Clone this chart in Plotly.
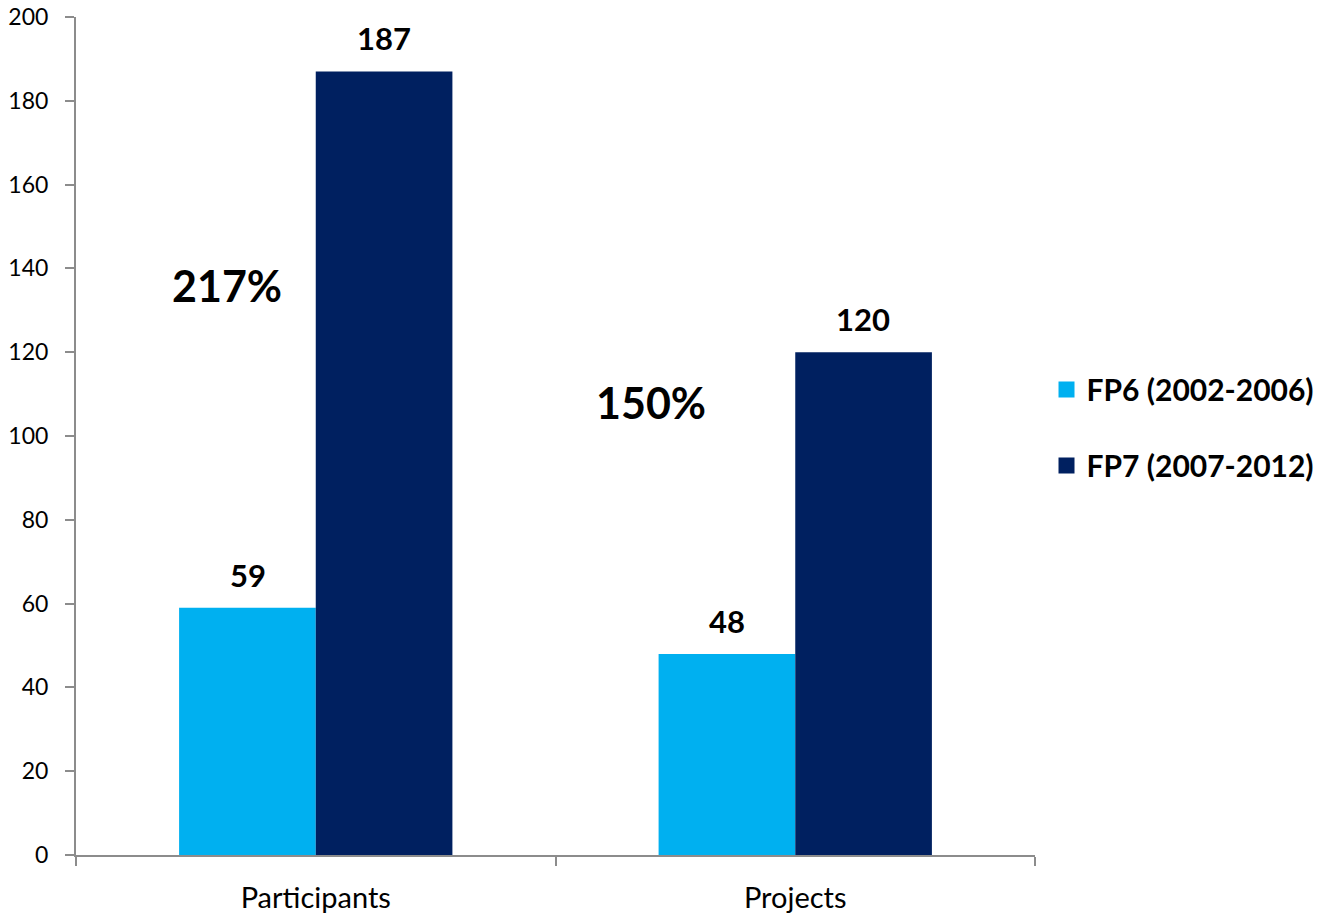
import plotly.graph_objects as go

categories = ["Participants", "Projects"]
fp6_values = [59, 48]
fp7_values = [187, 120]
series_names = ["FP6 (2002-2006)", "FP7 (2007-2012)"]
series_colors = ["#00B0F0", "#002060"]
growth_labels = ["217%", "150%"]
growth_x = [-0.185, 0.70]
growth_y = [136, 108]

FONT = "Lato"
fig = go.Figure()
for i, (vals, name, col) in enumerate(zip([fp6_values, fp7_values], series_names, series_colors)):
    fig.add_trace(go.Bar(x=categories, y=vals, name=name,
                         marker=dict(color=col, line=dict(width=0)),
                         showlegend=False))
    # legend proxy with larger square symbol
    fig.add_trace(go.Scatter(x=[None], y=[None], mode="markers", name=name,
                             marker=dict(symbol="square", size=22, color=col),
                             legendgroup=f"g{i}", showlegend=True))
    shift = -68 if i == 0 else 68
    for c, v in zip(categories, vals):
        fig.add_annotation(x=c, y=v, text=f"<b>{v}</b>", showarrow=False,
                           xshift=shift, yshift=33,
                           font=dict(family=FONT, size=31, color="black"))

for lbl, gx, gy in zip(growth_labels, growth_x, growth_y):
    fig.add_annotation(x=gx, y=gy, text=f"<b>{lbl}</b>", showarrow=False,
                       font=dict(family=FONT, size=43, color="black"))

fig.update_layout(
    width=1342, height=914,
    margin=dict(l=76, r=307, t=17, b=59, autoexpand=False),
    paper_bgcolor="white", plot_bgcolor="white",
    barmode="group", bargap=0.43, bargroupgap=0,
    font=dict(family=FONT, size=21, color="black"),
    legend=dict(x=1.012, y=0.51, xanchor="left", yanchor="middle",
                font=dict(family=FONT, size=30, color="black", weight="bold"),
                traceorder="grouped", tracegroupgap=34,
                itemwidth=30),
    showlegend=True,
)
fig.update_yaxes(range=[0, 200], dtick=20, showgrid=False, showline=True,
                 linecolor="#8C8C8C", linewidth=2, ticks="outside",
                 ticklen=9, tickcolor="#8C8C8C", tickwidth=2,
                 ticklabelstandoff=12, automargin=False,
                 tickfont=dict(family=FONT, size=23), zeroline=False)
fig.update_xaxes(showgrid=False, showline=True, linecolor="#8C8C8C",
                 linewidth=2, ticks="outside", tickson="boundaries",
                 ticklen=9, tickcolor="#8C8C8C", tickwidth=2,
                 ticklabelstandoff=16, automargin=False,
                 tickfont=dict(family=FONT, size=29))

fig.write_html("out.html", config={"displayModeBar": False},
               post_script="document.body.style.margin='0';")
